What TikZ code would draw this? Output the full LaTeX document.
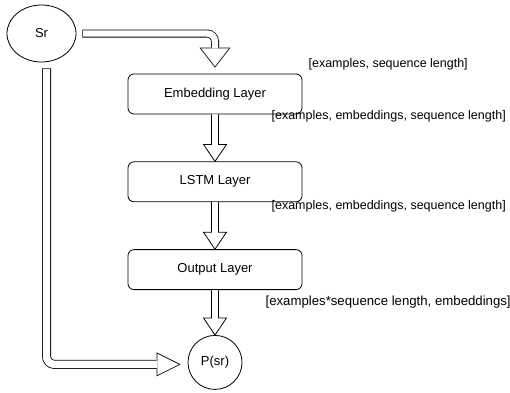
\documentclass[tikz,border=0pt]{standalone}
\usepackage{fontspec}
\setmainfont{Liberation Sans}
\usetikzlibrary{arrows.meta,positioning,shapes.geometric}

% straight hollow arrow from the bottom of #1 to the top of #2
\newcommand{\pipearrow}[2]{%
  \draw[pipe] ([xshift=-3.5pt]#1.south)
    -- ([xshift=-3.5pt,yshift=17pt]#2.north)
    -- ([xshift=-11.5pt,yshift=17pt]#2.north)
    -- (#2.north)
    -- ([xshift=11.5pt,yshift=17pt]#2.north)
    -- ([xshift=3.5pt,yshift=17pt]#2.north)
    -- ([xshift=3.5pt]#1.south);}

\begin{document}
\begin{tikzpicture}[
    x=1pt, y=-1pt,
    node distance=47pt,
    font=\fontsize{13}{15}\selectfont,
    layer/.style={draw,line width=.8pt,rounded corners=6pt,
      minimum width=174pt,minimum height=40pt,align=center},
    dimlabel/.style={inner sep=0pt,anchor=west,
      font=\fontsize{12.5}{15}\selectfont},
    pipe/.style={draw,fill=white,line width=.8pt,line join=miter},
    % bent hollow arrows: black outline, white core drawn on top
    feed/.style={line width=8pt,rounded corners=8pt,
      -{Triangle[width=31pt,length=20pt,line width=0pt]},
      postaction={draw=white,line width=6.4pt,shorten >=1.3pt,shorten <=.8pt,
        -{Triangle[width=27.7pt,length=17.9pt,line width=0pt]}}},
    skip/.style={line width=9pt,rounded corners=8pt,
      -{Triangle[width=24pt,length=24pt,line width=0pt]},
      postaction={draw=white,line width=7.4pt,shorten >=1.8pt,shorten <=.8pt,
        -{Triangle[width=21.4pt,length=21.4pt,line width=0pt]}}}
  ]
    \useasboundingbox (0,0) rectangle (510,392);

    \node[ellipse,draw,line width=.8pt,inner sep=0pt,
      minimum width=69pt,minimum height=57pt] (sr) at (41.5,33.5) {Sr};
    \node[layer] (emb) at (215,94) {Embedding Layer};
    \node[layer,below=of emb] (lstm) {LSTM Layer};
    \node[layer,below=of lstm] (out) {Output Layer};
    \node[circle,draw,line width=.8pt,inner sep=0pt,
      minimum size=54pt,below=45pt of out] (psr) {P(sr)};

    % tensor shapes
    \node[dimlabel] (shp0) at ([xshift=6pt,yshift=9pt]emb.north east)
      {[examples, sequence length]};
    \node[dimlabel] (shp1) at ([xshift=-31pt,yshift=-1.5pt]emb.south east)
      {[examples, embeddings, sequence length]};
    \node[dimlabel] (shp2) at ([xshift=-31pt,yshift=-4.5pt]lstm.south east)
      {[examples, embeddings, sequence length]};
    \node[dimlabel,font=\fontsize{13.2}{15}\selectfont] (shp3)
      at ([xshift=-37pt,yshift=-12.5pt]out.south east)
      {[examples*sequence length, embeddings]};

    \draw[feed] ([xshift=6pt]sr.east) -| ([yshift=6pt]emb.north);
    \pipearrow{emb}{lstm}
    \pipearrow{lstm}{out}
    \pipearrow{out}{psr}
    \draw[skip] ([xshift=5pt,yshift=-6pt]sr.south)
      |- ([xshift=-7pt,yshift=-2pt]psr.west);
  \end{tikzpicture}
\end{document}
